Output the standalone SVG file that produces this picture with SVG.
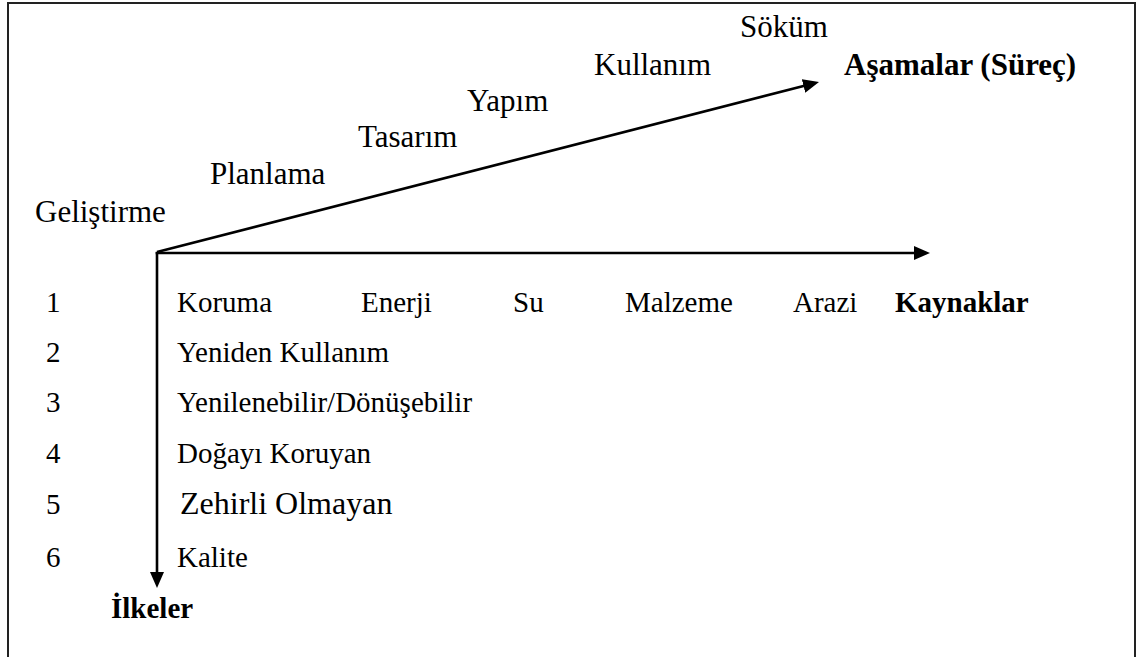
<svg xmlns="http://www.w3.org/2000/svg" width="1142" height="657" viewBox="0 0 1142 657">
<style>
.t{font-size:31px}
.l{font-size:29px}
.b{font-weight:bold}
.ax{stroke:#000;stroke-width:2.6;fill:none}
</style>
<defs>
<marker id="ah" markerUnits="userSpaceOnUse" markerWidth="16" markerHeight="14" refX="4" refY="7" orient="auto" viewBox="0 0 16 14">
<path d="M0,0 L16,7 L0,14 Z" fill="#000"/>
</marker>
</defs>
<rect x="8" y="3" width="1127" height="680" fill="#fff" stroke="#222" stroke-width="2"/>
<g id="connectors">
<line class="ax" x1="157" y1="252" x2="807.4" y2="85" marker-end="url(#ah)"/>
<line class="ax" x1="155.7" y1="253" x2="918" y2="253" marker-end="url(#ah)"/>
<line class="ax" x1="157" y1="252" x2="157" y2="576" marker-end="url(#ah)"/>
</g>
<g font-family="Liberation Serif, Times New Roman, DejaVu Serif, serif" fill="#000">
<g id="asamalar">
<text class="t" x="35" y="222">Geliştirme</text>
<text class="t" x="210" y="184">Planlama</text>
<text class="t" x="358" y="147">Tasarım</text>
<text class="t" x="467" y="111">Yapım</text>
<text class="t" x="594" y="75">Kullanım</text>
<text class="t" x="740" y="37">Söküm</text>
<text class="t b" x="844" y="75">Aşamalar (Süreç)</text>
</g>
<g id="kaynaklar">
<text class="l" x="177" y="312">Koruma</text>
<text class="l" x="361" y="312">Enerji</text>
<text class="l" x="513" y="312">Su</text>
<text class="l" x="625" y="312">Malzeme</text>
<text class="l" x="793" y="312">Arazi</text>
<text class="l b" x="895" y="312">Kaynaklar</text>
</g>
<g id="ilkeler">
<text class="l" x="46" y="312">1</text>
<text class="l" x="46" y="362">2</text>
<text class="l" x="46" y="412">3</text>
<text class="l" x="46" y="463">4</text>
<text class="l" x="46" y="514">5</text>
<text class="l" x="46" y="567">6</text>
<text class="l" x="177" y="362">Yeniden Kullanım</text>
<text class="l" x="177" y="412">Yenilenebilir/Dönüşebilir</text>
<text class="l" x="177" y="463">Doğayı Koruyan</text>
<text x="180" y="514" font-size="32">Zehirli Olmayan</text>
<text class="l" x="177" y="567">Kalite</text>
<text class="l b" x="111" y="618">İlkeler</text>
</g>
</g>
</svg>
